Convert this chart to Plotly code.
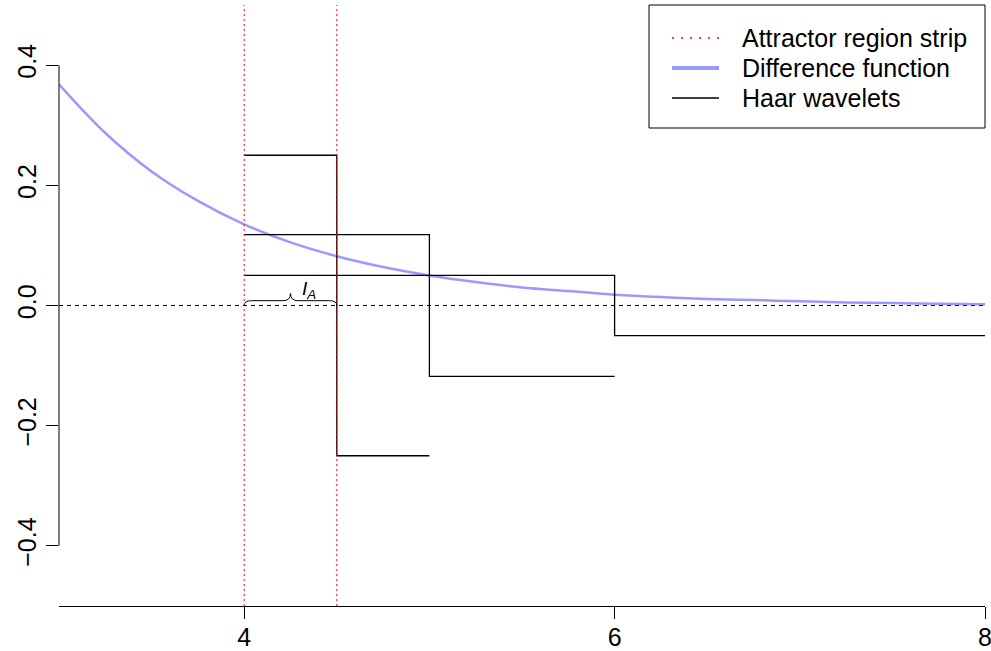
import plotly.graph_objects as go

# ---- data ----
curve_x = [3.0, 3.25, 3.5, 3.75, 4.0, 4.25, 4.5, 4.75, 5.0, 5.25, 5.5,
           5.75, 6.0, 6.25, 6.5, 6.75, 7.0, 7.25, 7.5, 7.75, 8.0]
curve_y = [0.368, 0.287, 0.223, 0.174, 0.135, 0.105, 0.082, 0.064, 0.050,
           0.039, 0.030, 0.024, 0.018, 0.014, 0.011, 0.009, 0.007, 0.005,
           0.004, 0.003, 0.002]

haar1_x = [4.0, 4.5, 5.0]
haar1_y = [0.25, -0.25, -0.25]
haar2_x = [4.0, 5.0, 6.0]
haar2_y = [0.118, -0.118, -0.118]
haar3_x = [4.0, 6.0, 8.0]
haar3_y = [0.05, -0.05, -0.05]

strip = [4.0, 4.5]

x_ticks = [4, 6, 8]
x_ticktext = ["4", "6", "8"]
y_ticks = [-0.4, -0.2, 0.0, 0.2, 0.4]
y_ticktext = ["\u22120.4", "\u22120.2", "0.0", "0.2", "0.4"]

legend_labels = ["Attractor region strip", "Difference function", "Haar wavelets"]

# ---- figure ----
W, H = 991, 651
ML, MR, MT, MB = 59, 6, 5, 45
PW, PH = W - ML - MR, H - MT - MB

def px(xp):
    return (xp - ML) / PW

def py(yp):
    return 1 - (yp - MT) / PH

FONT = "Liberation Sans, Arial, sans-serif"
BLUE = "rgba(0,0,255,0.4)"

fig = go.Figure()

fig.add_trace(go.Scatter(x=curve_x, y=curve_y, mode="lines",
                         line=dict(color=BLUE, width=2.5, shape="spline"),
                         showlegend=False, hoverinfo="skip"))

for hx, hy in [(haar1_x, haar1_y), (haar2_x, haar2_y), (haar3_x, haar3_y)]:
    fig.add_trace(go.Scatter(x=hx, y=hy, mode="lines",
                             line=dict(color="black", width=1.3, shape="hv"),
                             showlegend=False, hoverinfo="skip"))

shapes = []
# zero line
shapes.append(dict(type="line", xref="paper", yref="y", x0=0, x1=1, y0=0, y1=0,
                   line=dict(color="black", width=1, dash="4px,4px"), layer="below"))
# strip lines
for s in strip:
    shapes.append(dict(type="line", xref="x", yref="paper", x0=s, x1=s, y0=0, y1=1,
                       line=dict(color="red", width=1, dash="2px,3px")))
# y axis line spanning ticks only
shapes.append(dict(type="line", xref="paper", yref="y", x0=0, x1=0,
                   y0=y_ticks[0], y1=y_ticks[-1],
                   line=dict(color="black", width=1)))
# brace over strip
a, b = strip
m = (a + b) / 2
w = b - a
h1, h2 = 0.008, 0.020
path = (f"M {a},0 Q {a},{h1} {a + 0.08 * w},{h1} L {m - 0.08 * w},{h1} "
        f"Q {m},{h1} {m},{h2} Q {m},{h1} {m + 0.08 * w},{h1} "
        f"L {b - 0.08 * w},{h1} Q {b},{h1} {b},0")
shapes.append(dict(type="path", xref="x", yref="y", path=path,
                   line=dict(color="black", width=1)))

# legend box
shapes.append(dict(type="rect", xref="paper", yref="paper",
                   x0=px(649), x1=1, y0=py(128), y1=1,
                   line=dict(color="black", width=1), fillcolor="white"))
rows = [38, 68, 98]
shapes.append(dict(type="line", xref="paper", yref="paper", x0=px(672), x1=px(719),
                   y0=py(rows[0]), y1=py(rows[0]),
                   line=dict(color="red", width=1.5, dash="2px,7px")))
shapes.append(dict(type="line", xref="paper", yref="paper", x0=px(672), x1=px(719),
                   y0=py(rows[1]), y1=py(rows[1]),
                   line=dict(color=BLUE, width=4)))
shapes.append(dict(type="line", xref="paper", yref="paper", x0=px(672), x1=px(719),
                   y0=py(rows[2]), y1=py(rows[2]),
                   line=dict(color="black", width=1.5)))

annotations = []
for lab, r in zip(legend_labels, rows):
    annotations.append(dict(xref="paper", yref="paper", x=px(740), y=py(r),
                            xanchor="left", yanchor="middle", text=lab,
                            showarrow=False, font=dict(size=25, color="black", family=FONT)))
annotations.append(dict(xref="x", yref="y", x=m + 0.1, y=0.026,
                        text="<i>I</i><sub><i>A</i></sub>", showarrow=False,
                        font=dict(size=19, color="black", family=FONT)))

fig.update_layout(
    width=W, height=H,
    margin=dict(l=ML, r=MR, t=MT, b=MB, autoexpand=False),
    plot_bgcolor="white", paper_bgcolor="white",
    font=dict(family=FONT, size=25, color="black"),
    shapes=shapes, annotations=annotations,
    showlegend=False,
    xaxis=dict(range=[3, 8], tickvals=x_ticks, ticktext=x_ticktext,
               showgrid=False, zeroline=False, showline=True, linecolor="black",
               linewidth=1, ticks="outside", ticklen=12, tickcolor="black",
               automargin=False, ticklabeloverflow="allow", ticklabelstandoff=-3,
               tickfont=dict(size=25, family=FONT)),
    yaxis=dict(range=[-0.5, 0.5], tickvals=y_ticks, ticktext=y_ticktext,
               showgrid=False, zeroline=False, showline=False,
               ticks="outside", ticklen=12, tickcolor="black", tickangle=-90,
               automargin=False, ticklabeloverflow="allow",
               tickfont=dict(size=25, family=FONT)),
)

fig.write_html("out.html")
